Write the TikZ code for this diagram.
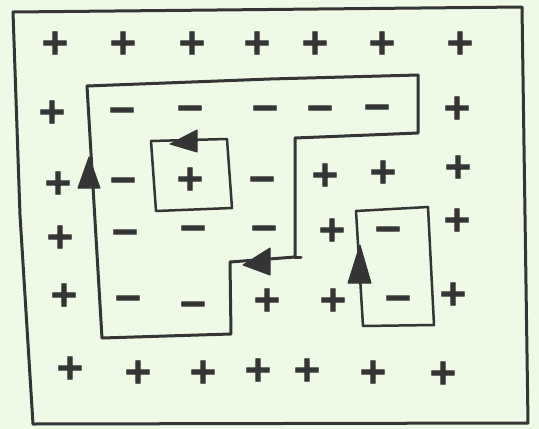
\documentclass[tikz,border=0pt]{standalone}
\usepackage{fontspec}
\setmainfont{DejaVu Sans}
\newfontfamily\signfont[FakeBold=2.5]{DejaVu Sans Bold}
\definecolor{paper}{HTML}{EEF9E6}
\definecolor{inkc}{HTML}{353535}
\begin{document}
\begin{tikzpicture}[x=1pt,y=-1pt,
  ink/.style={draw=inkc, line width=3pt, line join=round, line cap=round},
  thin ink/.style={draw=inkc, line width=2.5pt, line join=round, line cap=round},
  head/.style={fill=inkc, draw=inkc, line width=1pt, line join=round},
  sgn/.style={text=inkc, font=\signfont\fontsize{36}{36}\selectfont, inner sep=0pt}]
\fill[paper] (0,0) rectangle (539,429);
\useasboundingbox (0,0) rectangle (539,429);
% outer frame
\draw[ink] (13,12) -- (522,7) -- (525,215) -- (528,423) -- (33,424) -- (20,215) -- cycle;
% main boundary
\draw[ink] (87,86) -- (270,79) -- (418,75) -- (418,133) -- (295,138) -- (295,257)
  -- (230,262) -- (231,334) -- (102,338) -- cycle;
\draw[ink] (295,257) -- (301,257);
% inner boxes
\draw[thin ink] (151,141) -- (227,139) -- (232,208) -- (156,211) -- cycle;
\draw[thin ink] (356,211) -- (428,207) -- (434,325) -- (363,326) -- cycle;
% arrow heads
\fill[head] (89,157) -- (78,188) -- (100,188) -- cycle;
\fill[head] (170,144) -- (197,130) -- (197,152) -- cycle;
\fill[head] (243,265) -- (270,248) -- (270,275) -- cycle;
\fill[head] (360,245) -- (348,283) -- (371,283) -- cycle;
% row 1
\node[sgn] (r1a) at (55,43) {+};
\node[sgn] (r1b) at (123,43) {+};
\node[sgn] (r1c) at (192,43) {+};
\node[sgn] (r1d) at (257,43) {+};
\node[sgn] (r1e) at (315,43) {+};
\node[sgn] (r1f) at (382,43) {+};
\node[sgn] (r1g) at (460,43) {+};
% row 2
\node[sgn] (r2a) at (52,112) {+};
\node[sgn] (r2b) at (122,110) {\vphantom{+}−};
\node[sgn] (r2c) at (190,108) {\vphantom{+}−};
\node[sgn] (r2d) at (265,108) {\vphantom{+}−};
\node[sgn] (r2e) at (320,108) {\vphantom{+}−};
\node[sgn] (r2f) at (377,107) {\vphantom{+}−};
\node[sgn] (r2g) at (457,108) {+};
% row 3
\node[sgn] (r3a) at (58,183) {+};
\node[sgn] (r3b) at (123,180) {\vphantom{+}−};
\node[sgn] (r3c) at (190,179) {+};
\node[sgn] (r3d) at (262,179) {\vphantom{+}−};
\node[sgn] (r3e) at (325,175) {+};
\node[sgn] (r3f) at (383,172) {+};
\node[sgn] (r3g) at (458,167) {+};
% row 4
\node[sgn] (r4a) at (60,237) {+};
\node[sgn] (r4b) at (125,232) {\vphantom{+}−};
\node[sgn] (r4c) at (193,228) {\vphantom{+}−};
\node[sgn] (r4d) at (264,228) {\vphantom{+}−};
\node[sgn] (r4e) at (332,230) {+};
\node[sgn] (r4f) at (388,229) {\vphantom{+}−};
\node[sgn] (r4g) at (457,220) {+};
% row 5
\node[sgn] (r5a) at (64,295) {+};
\node[sgn] (r5b) at (128,298) {\vphantom{+}−};
\node[sgn] (r5c) at (193,304) {\vphantom{+}−};
\node[sgn] (r5d) at (267,300) {+};
\node[sgn] (r5e) at (333,300) {+};
\node[sgn] (r5f) at (398,298) {\vphantom{+}−};
\node[sgn] (r5g) at (453,294) {+};
% row 6
\node[sgn] (r6a) at (70,368) {+};
\node[sgn] (r6b) at (138,372) {+};
\node[sgn] (r6c) at (203,372) {+};
\node[sgn] (r6d) at (258,370) {+};
\node[sgn] (r6e) at (307,370) {+};
\node[sgn] (r6f) at (373,372) {+};
\node[sgn] (r6g) at (443,373) {+};
\end{tikzpicture}
\end{document}
